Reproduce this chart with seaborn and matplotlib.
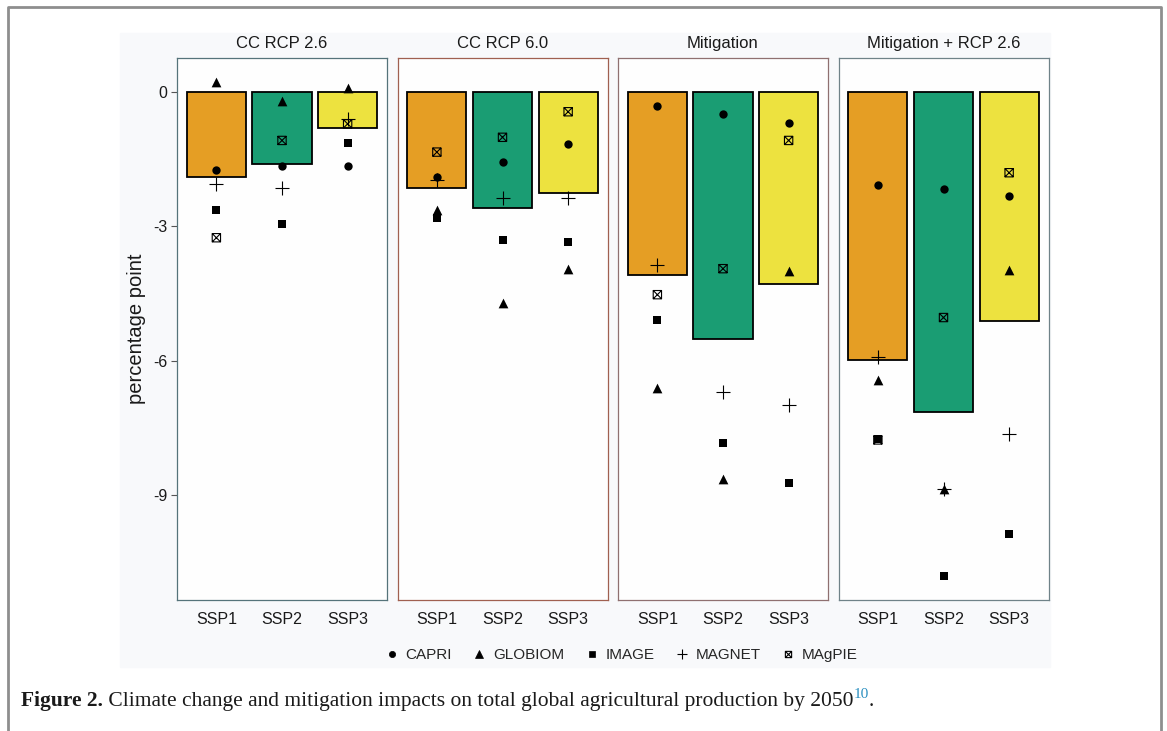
import numpy as np
import pandas as pd
import matplotlib
matplotlib.use("Agg")
import matplotlib.pyplot as plt
from matplotlib.lines import Line2D
from matplotlib.markers import MarkerStyle
from matplotlib.patches import Rectangle
from matplotlib.path import Path
import seaborn as sns

SCENARIOS = ["CC RCP 2.6", "CC RCP 6.0", "Mitigation", "Mitigation + RCP 2.6"]
SSPS = ["SSP1", "SSP2", "SSP3"]
MODELS = ["CAPRI", "GLOBIOM", "IMAGE", "MAGNET", "MAgPIE"]

# impact in percentage points, rows = scenario, columns = SSP1..SSP3
CAPRI = [[-1.75, -1.66, -1.66], [-1.91, -1.56, -1.18], [-0.33, -0.51, -0.69], [-2.09, -2.17, -2.34]]
GLOBIOM = [[0.21, -0.22, 0.07], [-2.65, -4.71, -3.95], [-6.62, -8.65, -4.01], [-6.44, -8.87, -3.98]]
IMAGE = [[-2.65, -2.96, -1.14], [-2.82, -3.32, -3.35], [-5.09, -7.83, -8.72], [-7.75, -10.80, -9.86]]
MAGNET = [[-2.07, -2.16, -0.62], [-1.97, -2.38, -2.37], [-3.86, -6.70, -6.98], [-5.92, -8.87, -7.63]]
MAGPIE = [[-3.26, -1.09, -0.72], [-1.35, -1.02, -0.45], [-4.53, -3.95, -1.09], [-7.77, -5.04, -1.81]]

BAR_COLORS = ["#E59E24", "#1A9D73", "#EDE23F"]
BORDER_COLORS = ["#55737a", "#a06050", "#8f7070", "#6f8288"]

W, H = 1167, 731

# square with a cross inside (ggplot shape 7)
boxtimes = Path(
    [(-1, -1), (1, -1), (1, 1), (-1, 1), (-1, -1), (-1, -1), (1, 1), (-1, 1), (1, -1)],
    [Path.MOVETO, Path.LINETO, Path.LINETO, Path.LINETO, Path.CLOSEPOLY,
     Path.MOVETO, Path.LINETO, Path.MOVETO, Path.LINETO],
)
MARKERS = {
    "CAPRI": dict(marker="o", size=6.0, linewidth=0),
    "GLOBIOM": dict(marker="^", size=7.0, linewidth=0),
    "IMAGE": dict(marker="s", size=5.8, linewidth=0),
    "MAGNET": dict(marker="+", size=9.5, linewidth=0.8),
    "MAgPIE": dict(marker=MarkerStyle(boxtimes, fillstyle="none"), size=6.0, linewidth=0.8),
}


def build_frame():
    rows = []
    for model, vals in zip(MODELS, [CAPRI, GLOBIOM, IMAGE, MAGNET, MAGPIE]):
        for i, sc in enumerate(SCENARIOS):
            for j, ssp in enumerate(SSPS):
                rows.append(dict(scenario=sc, ssp=ssp, model=model, value=vals[i][j]))
    return pd.DataFrame(rows)


def main():
    df = build_frame()
    sns.set_style("white")
    plt.rcParams["font.family"] = ["Liberation Sans", "DejaVu Sans"]

    fig = plt.figure(figsize=(W / 100, H / 100), dpi=100)
    fig.patch.set_facecolor("white")
    fig.patches.append(Rectangle((120 / W, 1 - 667 / H), 930 / W, 634 / H,
                                 transform=fig.transFigure, color="#F8F9FB", zorder=-5))

    lefts = [177, 397.5, 618, 838.5]
    top, bottom, pw = 57.5, 600, 210
    for k, sc in enumerate(SCENARIOS):
        ax = fig.add_axes([lefts[k] / W, 1 - bottom / H, pw / W, (bottom - top) / H])
        ax.set_facecolor("#FEFEFE")
        sub = df[df.scenario == sc]
        sns.barplot(data=sub, x="ssp", y="value", hue="ssp", order=SSPS, hue_order=SSPS,
                    palette=BAR_COLORS, saturation=1, estimator="mean", errorbar=None,
                    width=0.9, edgecolor="black", linewidth=1.3, legend=False, ax=ax)
        for m in MODELS:
            sns.stripplot(data=sub[sub.model == m], x="ssp", y="value", order=SSPS,
                          jitter=False, color="black", ax=ax, zorder=3, **MARKERS[m])
        ax.set_xlim(-0.6, 2.6)
        ax.set_ylim(-11.34, 0.76)
        ax.set_xlabel("")
        ax.set_ylabel("")
        ax.set_title(sc, fontsize=12, pad=7, color="#1a1a1a")
        ax.tick_params(axis="x", length=0, pad=9, labelsize=11.5, labelcolor="#1a1a1a")
        if k == 0:
            ax.set_yticks([0, -3, -6, -9])
            ax.set_yticklabels(["0", "-3", "-6", "-9"])
            ax.tick_params(axis="y", left=True, length=4, width=0.8, color="#555555",
                           pad=3, labelsize=11.5, labelcolor="#1a1a1a")
        else:
            ax.set_yticks([])
        for sp in ax.spines.values():
            sp.set_color(BORDER_COLORS[k])
            sp.set_linewidth(0.9)
            sp.set_visible(True)

    fig.text(137 / W, 1 - 329 / H, "percentage point", rotation=90, ha="center",
             va="center", fontsize=14.5, color="#1a1a1a")

    handles = []
    for m in MODELS:
        spec = MARKERS[m]
        handles.append(Line2D([], [], linestyle="none", marker=spec["marker"], color="black",
                              markersize=spec["size"] * 0.75,
                              markeredgewidth=spec["linewidth"] if spec["linewidth"] else 0.5,
                              label=m))
    fig.legend(handles=handles, loc="center", bbox_to_anchor=(621 / W, 1 - 655 / H), ncol=5,
               frameon=False, fontsize=11, handletextpad=0.4, columnspacing=1.3,
               handlelength=1.0)

    # page frame
    fig.add_artist(Line2D([8 / W, 8 / W, 1161 / W, 1161 / W], [0, 1 - 7 / H, 1 - 7 / H, 0],
                          transform=fig.transFigure, color="#8e8e8e", lw=2))

    # caption
    fig.canvas.draw()
    r = fig.canvas.get_renderer()
    cy = 1 - 706 / H
    x = 21 / W
    pieces = [("Figure 2.", dict(weight="bold", fontsize=15.5, color="#1a1a1a"), 0),
              (" Climate change and mitigation impacts on total global agricultural production by 2050",
               dict(fontsize=15.5, color="#1a1a1a"), 0),
              ("10", dict(fontsize=11, color="#2a8fc0"), 8 / H),
              (".", dict(fontsize=15.5, color="#1a1a1a"), 0)]
    for txt, kw, dy in pieces:
        t = fig.text(x, cy + dy, txt, ha="left", va="baseline",
                     family=["Liberation Serif", "DejaVu Serif"], **kw)
        bb = t.get_window_extent(renderer=r)
        x = bb.x1 / W

    fig.savefig("out.png", dpi=100)
    plt.close(fig)


if __name__ == "__main__":
    main()
